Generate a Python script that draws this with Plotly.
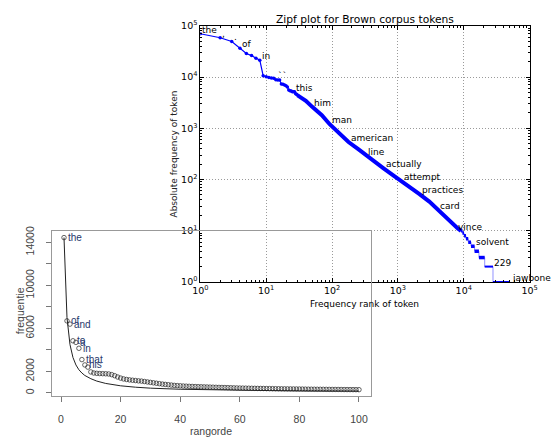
import plotly.graph_objects as go
import numpy as np

W, H = 558, 441

# ---------------- Zipf plot (Brown corpus) ----------------
head_ranks = list(range(1, 31))
head_freqs = [69971, 58334, 49346, 36412, 28853, 26158, 23195, 21337, 10594, 10109,
              9815, 9548, 9489, 8837, 8789, 8760, 7289, 7253, 6996, 6741,
              6377, 5566, 5372, 5306, 5164, 5145, 5133, 4693, 4610, 4394]
mid_ranks = [30, 40, 50, 70, 92, 130, 178, 250, 333, 450, 606, 850, 1150, 1600,
             2130, 3000, 4100, 5500, 7000, 8200, 9100]
mid_freqs = [4394, 3450, 2620, 1800, 1200, 800, 540, 390, 290, 215, 165, 120, 92, 68,
             52, 37, 25, 18, 13, 11, 10]
step_levels = [10, 9, 8, 7, 6, 5, 4, 3, 2, 1]
step_starts = [9100, 9550, 10100, 10800, 11700, 12900, 14600, 17000, 20800, 27800]
last_rank = 49815

zipf_labels = ["the", ",", ".", "of", "in", "``", "this", "him", "man", "american", "line",
               "actually", "attempt", "practices", "card", "vince", "solvent", "229", "jawbone"]
zipf_label_ranks = [1, 2, 3, 4, 8, 14, 26, 50, 92, 178, 333, 606, 1150, 2130, 4100,
                    7700, 14400, 26900, 49815]
zipf_label_freqs = [69971, 58334, 49346, 36412, 21337, 8837, 5145, 2620, 1200, 540, 290,
                    165, 92, 52, 25, 10, 5, 2, 1]

# ---------------- R plot (rangorde / frequentie) ----------------
r_ranks = list(range(1, 101))
r_freqs = [14450, 6700, 6400, 4850, 4700, 4150, 3100, 2600, 2400, 1950,
           1850, 1820, 1800, 1790, 1780, 1760, 1700, 1600, 1480, 1380,
           1300, 1250, 1210, 1180, 1150, 1120, 1100, 1060, 1020, 980,
           940, 900, 860, 820, 790, 760, 730, 700, 680, 660,
           640, 625, 610, 600, 590, 580, 570, 560, 550, 540,
           530, 520, 510, 505, 500, 490, 480, 470, 460, 450,
           445, 440, 435, 430, 425, 420, 415, 410, 405, 400,
           395, 390, 385, 380, 375, 372, 369, 366, 363, 360,
           355, 350, 345, 342, 340, 337, 334, 331, 328, 325,
           322, 320, 318, 315, 312, 310, 307, 305, 302, 300]
r_line_ranks = [1, 2, 3, 4, 5, 6, 7, 8, 10, 12, 15, 20, 25, 30, 40, 50, 60, 70, 80, 90, 100]
r_line_freqs = [14450, 7000, 4500, 3300, 2600, 2150, 1850, 1620, 1320, 1100, 880, 660,
                530, 440, 340, 280, 240, 215, 195, 180, 165]
r_labels = ["the", "of", "and", "to", "a", "in", "that", "his"]

r_xticks = [0, 20, 40, 60, 80, 100]
r_yticks = [0, 2000, 4000, 6000, 8000, 10000, 12000, 14000]
r_yticktext = ["0", "2000", "", "6000", "", "10000", "", "14000"]

decades = [1, 10, 100, 1000, 10000, 100000]
decade_text = ["10<sup>%d</sup>" % i for i in range(6)]

BLUE = "#0000ff"
fig = go.Figure()

# step connectors (thin, light)
fig.add_trace(go.Scatter(x=step_starts + [last_rank], y=step_levels + [1], mode="lines",
                         line=dict(color="rgba(40,40,255,0.5)", width=1, shape="hv"),
                         xaxis="x", yaxis="y", hoverinfo="skip"))
# horizontal plateaus
ends = step_starts[1:] + [last_rank]
hx_thick, hy_thick, hx_thin, hy_thin = [], [], [], []
for s, e, lv in zip(step_starts, ends, step_levels):
    if lv >= 3:
        hx_thick += [s, e, None]; hy_thick += [lv, lv, None]
    else:
        hx_thin += [s, e, None]; hy_thin += [lv, lv, None]
fig.add_trace(go.Scatter(x=hx_thick, y=hy_thick, mode="lines",
                         line=dict(color=BLUE, width=3.5), xaxis="x", yaxis="y"))
fig.add_trace(go.Scatter(x=hx_thin, y=hy_thin, mode="lines",
                         line=dict(color=BLUE, width=2), xaxis="x", yaxis="y"))
# dense middle part
fig.add_trace(go.Scatter(x=mid_ranks, y=mid_freqs, mode="lines",
                         line=dict(color=BLUE, width=4), xaxis="x", yaxis="y"))
# head points
fig.add_trace(go.Scatter(x=head_ranks, y=head_freqs, mode="lines+markers",
                         line=dict(color=BLUE, width=1.2),
                         marker=dict(color=BLUE, size=3.5), xaxis="x", yaxis="y"))

# R plot traces
fig.add_trace(go.Scatter(x=r_line_ranks, y=r_line_freqs, mode="lines",
                         line=dict(color="#222222", width=1), xaxis="x2", yaxis="y2"))
fig.add_trace(go.Scatter(x=r_ranks, y=r_freqs, mode="markers",
                         marker=dict(symbol="circle-open", size=4.5, color="#222222",
                                     line=dict(width=0.7)),
                         xaxis="x2", yaxis="y2"))

ann = []
for lab, rk, fq in zip(zipf_labels, zipf_label_ranks, zipf_label_freqs):
    ann.append(dict(x=np.log10(rk), y=np.log10(fq), xref="x", yref="y", text=lab,
                    showarrow=False, xanchor="left", yanchor="middle", yshift=4, xshift=0,
                    font=dict(family="DejaVu Sans", size=9, color="black")))
for lab, rk, fq in zip(r_labels, r_ranks, r_freqs):
    ann.append(dict(x=rk, y=fq, xref="x2", yref="y2", text=lab, showarrow=False,
                    xanchor="left", yanchor="middle", xshift=2,
                    font=dict(family="Liberation Sans", size=10, color="#27386b")))

def px(x):
    return x / W

def py(y):
    return 1 - y / H

ann += [
    dict(x=px(367.5), y=py(12.5), xref="paper", yref="paper", text="Zipf plot for Brown corpus tokens",
         showarrow=False, xanchor="center", yanchor="middle",
         font=dict(family="DejaVu Sans", size=10.7, color="black")),
    dict(x=px(367.5), y=py(305.5), xref="paper", yref="paper", text="Frequency rank of token",
         showarrow=False, xanchor="center", yanchor="middle",
         font=dict(family="DejaVu Sans", size=9, color="black")),
    dict(x=px(170.5), y=py(151), xref="paper", yref="paper", text="Absolute frequency of token",
         showarrow=False, xanchor="center", yanchor="middle", textangle=-90,
         font=dict(family="DejaVu Sans", size=9, color="#222")),
    dict(x=px(209), y=py(436), xref="paper", yref="paper", text="rangorde",
         showarrow=False, xanchor="center", yanchor="middle",
         font=dict(family="Liberation Sans", size=10.5, color="#444")),
    dict(x=px(12), y=py(312), xref="paper", yref="paper", text="frequentie",
         showarrow=False, xanchor="center", yanchor="middle", textangle=-90,
         font=dict(family="Liberation Sans", size=10.5, color="#444")),
]

log_axis_common = dict(type="log", range=[0, 5], tickmode="array", tickvals=decades,
                       ticktext=decade_text, ticks="inside", ticklen=4, tickcolor="black",
                       showline=True, linecolor="black", linewidth=1, mirror="allticks",
                       showgrid=True, gridcolor="#9a9a9a", griddash="1px,2px", gridwidth=1,
                       zeroline=False,
                       minor=dict(ticks="inside", ticklen=2, tickcolor="black", dtick="D1",
                                  showgrid=False),
                       tickfont=dict(family="DejaVu Sans", size=9.5, color="black"))

fig.update_layout(
    width=W, height=H, margin=dict(l=0, r=0, t=0, b=0),
    paper_bgcolor="white", plot_bgcolor="rgba(0,0,0,0)", showlegend=False,
    xaxis=dict(domain=[px(198), px(537)], anchor="y", **log_axis_common),
    yaxis=dict(domain=[py(282.7), py(19.3)], anchor="x", **log_axis_common),
    xaxis2=dict(domain=[px(45), px(373.3)], anchor="y2", range=[-3.13, 103.9],
                tickmode="array", tickvals=r_xticks, ticks="outside", ticklen=5,
                tickcolor="#777", showline=True, mirror=True, linecolor="#999",
                linewidth=1, showgrid=False, zeroline=False, ticklabelstandoff=8,
                tickfont=dict(family="Liberation Sans", size=10.5, color="#444")),
    yaxis2=dict(domain=[py(400), py(230)], anchor="x2", range=[-299, 15086],
                tickmode="array", tickvals=r_yticks, ticktext=r_yticktext, tickangle=-90,
                ticks="outside", ticklen=5, tickcolor="#777", showline=True, mirror=True,
                linecolor="#999", linewidth=1, showgrid=False, zeroline=False,
                ticklabelstandoff=8,
                tickfont=dict(family="Liberation Sans", size=10.5, color="#444")),
    annotations=ann,
)

fig.write_html("out.html")
